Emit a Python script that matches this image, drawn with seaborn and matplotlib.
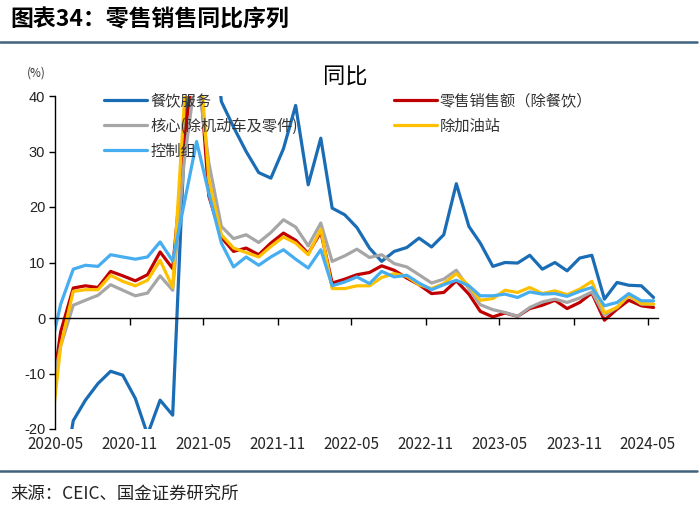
import numpy as np
import pandas as pd
import matplotlib
matplotlib.use("Agg")
import matplotlib.pyplot as plt
import matplotlib.dates as mdates
from matplotlib.transforms import ScaledTranslation
import seaborn as sns

# ---------------- data ----------------
months = [p.strftime("%Y-%m") for p in pd.period_range("2020-04", "2024-05", freq="M")]

food_services = [-48, -32, -18.5, -14.8, -11.8, -9.6, -10.3, -14.5, -21, -14.8, -17.5, 30, 90, 60,
                 39, 34.4, 30, 26.2, 25.2, 30.5, 38.3, 24, 32.4, 19.8, 18.6, 16.3, 12.6, 10.2, 12,
                 12.7, 14.4, 12.8, 15, 24.2, 16.5, 13.5, 9.3, 10, 9.9, 11.3, 8.8, 10, 8.5, 10.8,
                 11.3, 3.4, 6.4, 5.9, 5.8, 3.7]
retail_ex_food = [-18, -2.5, 5.4, 5.8, 5.5, 8.4, 7.6, 6.7, 7.8, 11.9, 8.9, 31, 52, 22,
                  14.5, 12, 12.6, 11.4, 13.5, 15.3, 14, 11.6, 15.5, 6.3, 7, 7.8, 8.2, 9.4, 8.6,
                  7.2, 6.0, 4.4, 4.6, 6.7, 4.3, 1.2, 0.2, 0.9, 0.3, 1.7, 2.3, 3.2, 1.7, 2.8,
                  4.5, -0.4, 1.6, 3.2, 2.2, 1.9]
core_ex_auto = [-16, -5, 2.3, 3.2, 4.1, 6.0, 5.0, 4.0, 4.5, 7.6, 5.0, 28, 45, 28,
                16.5, 14.3, 15, 13.6, 15.4, 17.7, 16.4, 13, 17.1, 10.2, 11.2, 12.4, 10.9, 11.4, 9.8,
                9.2, 7.8, 6.3, 7.0, 8.6, 5.3, 2.4, 1.5, 1.0, 0.3, 1.9, 2.9, 3.4, 2.8, 3.6,
                4.7, 0.5, 1.9, 4.0, 2.5, 2.5]
ex_gas = [-25, -5, 4.8, 5.1, 5.1, 7.7, 6.6, 5.8, 6.8, 10.4, 5.5, 38, 55, 25,
          15, 12.6, 11.8, 11, 12.9, 14.6, 13.5, 11.4, 16, 5.3, 5.3, 5.8, 5.8, 7.3, 8,
          7.5, 6, 5.3, 6.2, 8, 5.8, 3.2, 3.5, 5, 4.6, 5.5, 4.4, 4.9, 4.2, 5.2,
          6.6, 0.9, 1.9, 4.1, 2.6, 2.5]
control_group = [-7.3, 2.5, 8.8, 9.5, 9.3, 11.4, 11.0, 10.6, 11.0, 13.7, 10.3, 20.5, 31.8, 22.5,
                 13.5, 9.2, 11, 9.5, 11, 12.3, 10.6, 9, 12.3, 5.8, 6.5, 7.4, 6.2, 8.4, 7.4,
                 7.7, 6.3, 5.1, 6.0, 6.8, 5.8, 4.0, 4.0, 4.3, 3.7, 4.7, 4.3, 4.4, 3.9, 4.8,
                 5.5, 2.2, 2.8, 4.4, 3.1, 3.1]

series_names = ["餐饮服务", "零售销售额（除餐饮）", "核心(除机动车及零件)", "除加油站", "控制组"]
series_values = [food_services, retail_ex_food, core_ex_auto, ex_gas, control_group]
colors = ["#1a6db5", "#c00000", "#a6a6a6", "#ffc000", "#46aef0"]

tick_labels = ["2020-05", "2020-11", "2021-05", "2021-11", "2022-05",
               "2022-11", "2023-05", "2023-11", "2024-05"]
y_ticks = [-20, -10, 0, 10, 20, 30, 40]

# ---------------- long table ----------------
rows = []
for name, vals in zip(series_names, series_values):
    for m, v in zip(months, vals):
        rows.append({"date": pd.Timestamp(m + "-15"), "value": v, "series": name})
df = pd.DataFrame(rows)

# ---------------- style ----------------
sns.set_theme(style="white")
plt.rcParams["font.family"] = ["Noto Sans CJK SC", "DejaVu Sans"]
plt.rcParams["axes.unicode_minus"] = False

fig = plt.figure(figsize=(7.0, 5.16), dpi=100)
ax = fig.add_axes([55 / 700, 1 - 429 / 516, (658 - 55) / 700, (429 - 96) / 516])

sns.lineplot(data=df, x="date", y="value", hue="series", hue_order=series_names,
             palette=dict(zip(series_names, colors)), linewidth=2.3, ax=ax,
             legend=True)

ax.set_ylim(-20, 40)
ax.set_xlim(pd.Timestamp("2020-05-01"), pd.Timestamp("2024-05-26"))
ax.set_xlabel("")
ax.set_ylabel("")

# y axis
ax.set_yticks(y_ticks)
ax.set_yticklabels([str(t) for t in y_ticks], fontfamily="Liberation Sans", fontsize=10.5,
                   color="#222222")
ax.tick_params(axis="y", which="major", left=True, direction="out", length=4, width=1,
               color="black", pad=3)

# x axis: tick marks on zero line (top spine moved there), labels at bottom
xt = [pd.Timestamp(t + "-01") for t in tick_labels]
ax.set_xticks(xt)
ax.set_xticklabels(tick_labels, fontfamily="Liberation Sans", fontsize=10, color="#222222")
ax.tick_params(axis="x", which="major", bottom=False, top=True, labelbottom=True,
               labeltop=False, direction="in", length=5, width=1, color="black", pad=5)
off = ScaledTranslation(7 / 100, 0, fig.dpi_scale_trans)
for lab in ax.get_xticklabels():
    lab.set_transform(lab.get_transform() + off)

for side in ["right", "bottom"]:
    ax.spines[side].set_visible(False)
ax.spines["top"].set_position(("data", 0))
ax.spines["top"].set_color("black")
ax.spines["top"].set_linewidth(1)
ax.spines["left"].set_color("black")
ax.spines["left"].set_linewidth(1)
ax.grid(False)

# legend (Excel-like row order -> column-major for matplotlib)
handles, labels = ax.get_legend_handles_labels()
hmap = dict(zip(labels, handles))
order = ["餐饮服务", "核心(除机动车及零件)", "控制组", "零售销售额（除餐饮）", "除加油站"]
leg = ax.legend([hmap[k] for k in order], order, ncol=2, loc="upper left",
                bbox_to_anchor=(0.082, 1.012), frameon=False, fontsize=11,
                handlelength=2.8, handletextpad=0.2, columnspacing=6.3,
                labelspacing=0.55, borderpad=0, borderaxespad=0)
for t in leg.get_texts():
    t.set_color("#333333")
for h in leg.get_lines():
    h.set_linewidth(2.3)

# texts
fig.text(345 / 700, 1 - 77 / 516, "同比", ha="center", va="center", fontsize=16, color="black")
fig.text(27 / 700, 1 - 73 / 516, "(%)", ha="left", va="center", fontsize=8.5, color="#333333")
fig.text(10 / 700, 1 - 20 / 516, "图表34：零售销售同比序列", ha="left", va="center",
         fontsize=16.5, fontweight="bold", style="italic", color="black")
fig.text(10 / 700, 1 - 494 / 516, "来源：CEIC、国金证券研究所", ha="left", va="center",
         fontsize=12.5, color="#222222")

# header / footer rules
fig.add_artist(plt.Line2D([0, 697 / 700], [1 - 42 / 516, 1 - 42 / 516], transform=fig.transFigure,
                          color="#3f627f", linewidth=1.8))
fig.add_artist(plt.Line2D([0, 697 / 700], [1 - 471 / 516, 1 - 471 / 516], transform=fig.transFigure,
                          color="#3f627f", linewidth=1.8))

fig.savefig("out.png", dpi=100)
